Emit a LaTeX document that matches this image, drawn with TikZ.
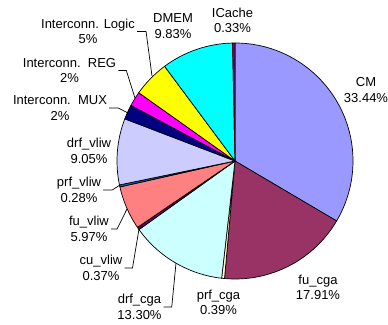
\documentclass[tikz,border=0pt]{standalone}
\usepackage{fontspec}
\setmainfont{Liberation Sans}
\definecolor{cCM}{HTML}{9999FF}
\definecolor{cFUcga}{HTML}{993366}
\definecolor{cPRFcga}{HTML}{FFFFCC}
\definecolor{cDRFcga}{HTML}{CCFFFF}
\definecolor{cCUvliw}{HTML}{660066}
\definecolor{cFUvliw}{HTML}{FF8080}
\definecolor{cPRFvliw}{HTML}{0066CC}
\definecolor{cDRFvliw}{HTML}{CCCCFF}
\definecolor{cMUX}{HTML}{000080}
\definecolor{cREG}{HTML}{FF00FF}
\definecolor{cLOGIC}{HTML}{FFFF00}
\definecolor{cDMEM}{HTML}{00FFFF}
\definecolor{cICACHE}{HTML}{800080}
\tikzset{
  slice/.style={draw=black, line width=0.7pt, line join=round},
  lbl/.style={align=center, inner sep=2pt, font=\fontsize{13}{15.5}\selectfont},
  leader/.style={draw=black, line width=0.7pt}
}
\newcommand{\pieslice}[3]{%
  \filldraw[slice, fill=#3] (ctr) -- ++(#1:118) arc[start angle=#1, end angle=#2, radius=118] -- cycle;}
\begin{document}
\begin{tikzpicture}[x=1pt,y=1pt]
\useasboundingbox (0,0) rectangle (388,-324);
\coordinate (ctr) at (235,-161);
\pieslice{90}{-30.54}{cCM}
\pieslice{-30.54}{-95.10}{cFUcga}
\pieslice{-95.10}{-96.51}{cPRFcga}
\pieslice{-96.51}{-144.45}{cDRFcga}
\pieslice{-144.45}{-145.78}{cCUvliw}
\pieslice{-145.78}{-167.30}{cFUvliw}
\pieslice{-167.30}{-168.31}{cPRFvliw}
\pieslice{-168.31}{-200.93}{cDRFvliw}
\pieslice{-200.93}{-208.14}{cMUX}
\pieslice{-208.14}{-215.35}{cREG}
\pieslice{-215.35}{-233.37}{cLOGIC}
\pieslice{-233.37}{-268.81}{cDMEM}
\pieslice{-268.81}{-270}{cICACHE}

\node[lbl] (lLogic) at (88,-31.5) {Interconn. Logic\\5\%};
\node[lbl] (lDMEM) at (173,-26) {DMEM\\9.83\%};
\node[lbl] (lICache) at (232.5,-20.5) {ICache\\0.33\%};
\node[lbl] (lCM) at (366,-90) {CM\\33.44\%};
\node[lbl] (lREG) at (69.5,-70.5) {Interconn.\ \ REG\\2\%};
\node[lbl] (lMUX) at (60,-108) {Interconn.\ \ MUX\\2\%};
\node[lbl] (lDRFvliw) at (89,-151) {drf\_vliw\\9.05\%};
\node[lbl] (lPRFvliw) at (79,-190) {prf\_vliw\\0.28\%};
\node[lbl] (lFUvliw) at (89,-229) {fu\_vliw\\5.97\%};
\node[lbl] (lCUvliw) at (101,-268) {cu\_vliw\\0.37\%};
\node[lbl] (lDRFcga) at (139.5,-307) {drf\_cga\\13.30\%};
\node[lbl] (lPRFcga) at (218.5,-302.5) {prf\_cga\\0.39\%};
\node[lbl] (lFUcga) at (318,-287.5) {fu\_cga\\17.91\%};

\coordinate (pLogic) at (152,-76);
\coordinate (pREG) at (135,-98);
\coordinate (pMUX) at (128,-113);
\coordinate (pPRFvliw) at (120,-185);
\coordinate (pFUvliw) at (127,-209);
\coordinate (pCUvliw) at (139,-229);
\coordinate (pDRFcga) at (176,-263);

\draw[leader] (lLogic.east) -- ++(9,0) -- (pLogic);
\draw[leader] (lREG.east) -- ++(8,0) -- (pREG);
\draw[leader] (lMUX.east) -- ++(9,0) -- (pMUX);
\draw[leader] (lPRFvliw.east) -- ++(9,0) -- (pPRFvliw);
\draw[leader] (lFUvliw.east) -- ++(6,0) -- (pFUvliw);
\draw[leader] (lCUvliw.east) -- ++(8,0) -- (pCUvliw);
\draw[leader] (lDRFcga.east) -- ++(8,0) -- (pDRFcga);
\end{tikzpicture}
\end{document}
